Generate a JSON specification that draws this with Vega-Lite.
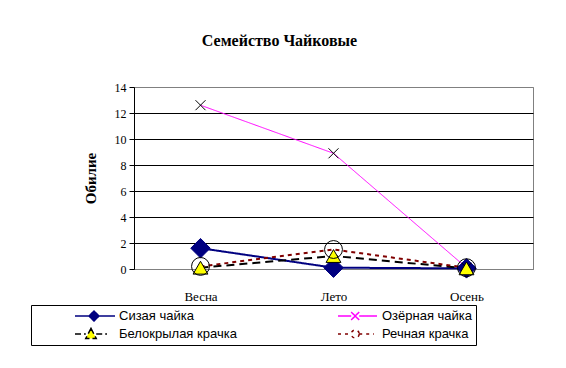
{
  "$schema": "https://vega.github.io/schema/vega-lite/v6.json",
  "width": 399,
  "height": 182,
  "autosize": "none",
  "padding": {"left": 134, "top": 87, "right": 33, "bottom": 99},
  "background": "white",
  "title": {
    "text": "Семейство Чайковые",
    "font": "Liberation Serif",
    "fontSize": 16,
    "fontWeight": "bold",
    "color": "black",
    "anchor": "middle",
    "offset": 32,
    "dx": -54
  },
  "data": {
    "values": [
      {"series": "Сизая чайка", "season": "Весна", "value": 1.6},
      {"series": "Сизая чайка", "season": "Лето", "value": 0.1},
      {"series": "Сизая чайка", "season": "Осень", "value": 0.05},
      {"series": "Озёрная чайка", "season": "Весна", "value": 12.6},
      {"series": "Озёрная чайка", "season": "Лето", "value": 8.9},
      {"series": "Озёрная чайка", "season": "Осень", "value": 0.1},
      {"series": "Белокрылая крачка", "season": "Весна", "value": 0.1},
      {"series": "Белокрылая крачка", "season": "Лето", "value": 1.0},
      {"series": "Белокрылая крачка", "season": "Осень", "value": 0.05},
      {"series": "Речная крачка", "season": "Весна", "value": 0.2},
      {"series": "Речная крачка", "season": "Лето", "value": 1.5},
      {"series": "Речная крачка", "season": "Осень", "value": 0.1}
    ]
  },
  "encoding": {
    "x": {
      "field": "season",
      "type": "nominal",
      "sort": ["Весна", "Лето", "Осень"],
      "scale": {"type": "point", "padding": 0.5},
      "axis": {
        "title": null,
        "labelAngle": 0,
        "ticks": false,
        "grid": false,
        "domainColor": "#808080",
        "labelFont": "Liberation Serif",
        "labelFontSize": 13,
        "labelColor": "black",
        "labelPadding": 21
      }
    },
    "y": {
      "field": "value",
      "type": "quantitative",
      "scale": {"domain": [0, 14], "nice": false},
      "axis": {
        "title": "Обилие",
        "values": [0, 2, 4, 6, 8, 10, 12, 14],
        "tickColor": "black",
        "tickSize": 5,
        "domainColor": "black",
        "labelFont": "Liberation Serif",
        "labelFontSize": 12,
        "labelColor": "black",
        "labelPadding": 3,
        "titleFont": "Liberation Serif",
        "titleFontSize": 15,
        "titleFontWeight": "bold",
        "titleColor": "black",
        "titlePadding": 16,
        "grid": true,
        "gridOpacity": 1,
        "gridColor": {
          "condition": {"test": "datum.value === 0 || datum.value === 14", "value": "#808080"},
          "value": "black"
        }
      }
    }
  },
  "layer": [
    {
      "mark": {"type": "line"},
      "encoding": {
        "detail": {"field": "series"},
        "stroke": {
          "condition": [
            {"test": "datum.series === 'Сизая чайка'", "value": "#000080"},
            {"test": "datum.series === 'Озёрная чайка'", "value": "#FF00FF"},
            {"test": "datum.series === 'Белокрылая крачка'", "value": "#000000"}
          ],
          "value": "#800000"
        },
        "strokeDash": {
          "condition": [
            {"test": "datum.series === 'Белокрылая крачка'", "value": [8, 5]},
            {"test": "datum.series === 'Речная крачка'", "value": [4, 4]}
          ],
          "value": [1, 0]
        },
        "strokeWidth": {
          "condition": {"test": "datum.series === 'Озёрная чайка'", "value": 1},
          "value": 2
        }
      }
    },
    {
      "mark": {"type": "point", "opacity": 1, "strokeWidth": 1},
      "encoding": {
        "shape": {
          "condition": [
            {"test": "datum.series === 'Сизая чайка'", "value": "diamond"},
            {"test": "datum.series === 'Озёрная чайка'", "value": "M-1,-1L1,1M-1,1L1,-1"},
            {"test": "datum.series === 'Белокрылая крачка'", "value": "triangle-up"}
          ],
          "value": "circle"
        },
        "size": {
          "condition": [
            {"test": "datum.series === 'Сизая чайка'", "value": 380},
            {"test": "datum.series === 'Озёрная чайка'", "value": 100},
            {"test": "datum.series === 'Белокрылая крачка'", "value": 220}
          ],
          "value": 320
        },
        "fill": {
          "condition": [
            {"test": "datum.series === 'Сизая чайка'", "value": "#000080"},
            {"test": "datum.series === 'Белокрылая крачка'", "value": "#FFFF00"}
          ],
          "value": "transparent"
        },
        "stroke": {
          "condition": {"test": "datum.series === 'Сизая чайка'", "value": "#000080"},
          "value": "black"
        }
      }
    },
    {
      "mark": {"type": "point", "opacity": 0},
      "encoding": {
        "shape": {
          "field": "series",
          "type": "nominal",
          "title": null,
          "scale": {
            "domain": ["Сизая чайка", "Озёрная чайка", "Белокрылая крачка", "Речная крачка"],
            "range": [
              "M0,0L0.35,0M0.6,0L1,0M0.475,-0.125L0.6,0L0.475,0.125L0.35,0Z",
              "M0,0L0.33,0M0.53,0L0.975,0M0.33,-0.1L0.53,0.1M0.33,0.1L0.53,-0.1",
              "M0,0L0.27,0M0.53,0L0.8,0M0.4,-0.14L0.53,0.11L0.27,0.11Z",
              "M0,0L0.33,0M0.53,0L0.9,0M0.53,0A0.1,0.1,0,1,1,0.33,0A0.1,0.1,0,1,1,0.53,0Z"
            ]
          },
          "legend": {
            "title": null,
            "symbolOpacity": 1,
            "encode": {"symbols": {"update": {"opacity": {"value": 1}}}}
          }
        },
        "fill": {
          "field": "series",
          "type": "nominal",
          "title": null,
          "scale": {
            "domain": ["Сизая чайка", "Озёрная чайка", "Белокрылая крачка", "Речная крачка"],
            "range": ["#000080", "transparent", "#FFFF00", "#FFFFFF"]
          }
        },
        "stroke": {
          "field": "series",
          "type": "nominal",
          "title": null,
          "scale": {
            "domain": ["Сизая чайка", "Озёрная чайка", "Белокрылая крачка", "Речная крачка"],
            "range": ["#000080", "#FF00FF", "#000000", "#800000"]
          }
        },
        "strokeDash": {
          "field": "series",
          "type": "nominal",
          "title": null,
          "scale": {
            "domain": ["Сизая чайка", "Озёрная чайка", "Белокрылая крачка", "Речная крачка"],
            "range": [[1, 0], [1, 0], [6, 3], [3, 4]]
          }
        }
      }
    }
  ],
  "config": {
    "view": {"stroke": "#808080", "strokeWidth": 1},
    "legend": {
      "orient": "none",
      "legendX": -103,
      "legendY": 218,
      "columns": 2,
      "direction": "horizontal",
      "symbolSize": 6400,
      "symbolStrokeWidth": 1.5,
      "symbolOpacity": 1,
      "clipHeight": 16,
      "labelFont": "Liberation Sans",
      "labelFontSize": 13,
      "labelColor": "black",
      "labelOffset": 3,
      "columnPadding": 60,
      "rowPadding": 2,
      "padding": 3,
      "strokeColor": "black"
    }
  }
}
